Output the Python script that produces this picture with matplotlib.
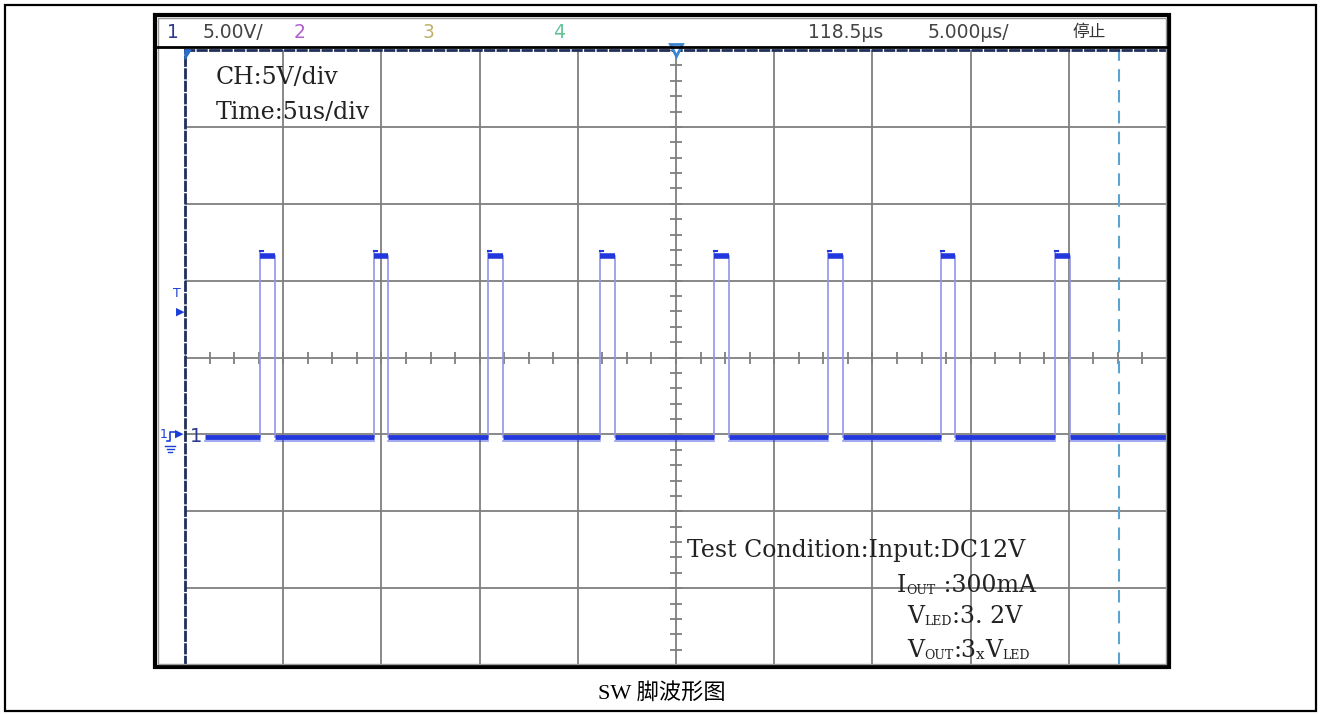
import matplotlib
matplotlib.use("Agg")
import matplotlib.pyplot as plt
from matplotlib.patches import Rectangle, Polygon
from matplotlib.lines import Line2D
import numpy as np

# waveform data (time in us, level in V)
rise_us = [3.82, 9.62, 15.43, 21.13, 26.94, 32.74, 38.49, 44.30]
fall_us = [4.56, 10.36, 16.17, 21.87, 27.68, 33.48, 39.23, 45.04]
v_low = 0.0
v_high = 11.8
ground_offset_v = -5.2
trace_start_us = 1.0
trace_end_us = 50.0
cursor_us = 47.56

# scope settings
time_div = 5.0      # us/div
volt_div = 5.0      # V/div
n_xdiv = 10
n_ydiv = 8

header_labels = ["1", "5.00V/", "2", "3", "4", "118.5µs", "5.000µs/", "停止"]
header_x = [167, 203, 294, 423, 553, 808, 928, 1072]
header_colors = ["#2b3a8f", "#444444", "#b060cc", "#bdb26a", "#5ec495", "#444444", "#444444", "#333333"]

info_lines = ["CH:5V/div", "Time:5us/div"]
test_line = "Test Condition:Input:DC12V"
caption = "SW 脚波形图"

W, H = 1320, 715
fig = plt.figure(figsize=(W / 100, H / 100), dpi=100)
fig.patch.set_facecolor("white")


def fx(px):
    return px / W


def fy(py):
    return 1 - py / H


# page border and scope frame
fig.add_artist(Rectangle((fx(5), fy(711)), fx(1316) - fx(5), fy(5) - fy(711),
                         transform=fig.transFigure, fill=False, lw=1.6, ec="black"))
fig.add_artist(Rectangle((fx(155), fy(667)), fx(1169) - fx(155), fy(15) - fy(667),
                         transform=fig.transFigure, fill=False, lw=3, ec="black"))
fig.add_artist(Rectangle((fx(158), fy(664)), fx(1166) - fx(158), fy(18) - fy(664),
                         transform=fig.transFigure, fill=False, lw=1, ec="#999999"))
fig.add_artist(Line2D([fx(155), fx(1169)], [fy(47), fy(47)], transform=fig.transFigure,
                      lw=2, color="black"))

# header row
hdr_font = ["DejaVu Sans", "Noto Sans CJK SC"]
for lab, x, c in zip(header_labels, header_x, header_colors):
    fam = ["Noto Sans CJK SC"] if lab == "停止" else hdr_font
    fs = 12 if lab == "停止" else 13.5
    fig.text(fx(x), fy(32), lab, color=c, fontsize=fs, family=fam, ha="left", va="center")

# screen axes
ax = fig.add_axes([fx(185), fy(665), fx(1167) - fx(185), fy(50) - fy(665)])
xmax = n_xdiv * time_div
ymax = n_ydiv / 2 * volt_div
ax.set_xlim(0, xmax)
ax.set_ylim(-ymax, ymax)
ax.set_xticks([])
ax.set_yticks([])
for s in ["right", "bottom"]:
    ax.spines[s].set_visible(False)
for s in ["left", "top"]:
    ax.spines[s].set_linestyle((0, (3, 1.5)))
    ax.spines[s].set_color("#1f2f5a")
    ax.spines[s].set_linewidth(2)

grid_c = "#7f7f7f"
for i in range(1, n_xdiv):
    ax.axvline(i * time_div, color=grid_c, lw=1.3, zorder=1)
for j in range(1, n_ydiv):
    ax.axhline(-ymax + j * volt_div, color=grid_c, lw=1.3, zorder=1)

# minor ticks on the centre cross
xt = np.arange(0, xmax + 0.01, time_div / 4)
ax.plot(xt, np.zeros_like(xt), ls="none", marker="|", ms=9, mew=1.3, color=grid_c, zorder=1)
yt = np.arange(-ymax, ymax + 0.01, volt_div / 5)
ax.plot(np.full_like(yt, xmax / 2), yt, ls="none", marker="_", ms=9, mew=1.3, color=grid_c, zorder=1)

# cursor
ax.axvline(cursor_us, color="#5ba3d3", lw=1.5, ls=(0, (6, 4)), zorder=2)

# trace
lo = v_low + ground_offset_v
hi = v_high + ground_offset_v
trace_c = "#2238dc"
edge_c = "#9494ec"
starts = [trace_start_us] + fall_us
ends = rise_us + [trace_end_us]
for a, b in zip(starts, ends):
    ax.plot([a, b], [lo, lo], color=trace_c, lw=3.5, solid_capstyle="butt", zorder=4)
    ax.plot([a, b], [lo - 0.25, lo - 0.25], color=trace_c, lw=1.2, alpha=0.5, zorder=4)
for r, f in zip(rise_us, fall_us):
    ax.plot([r, r], [lo, hi + 0.3], color=edge_c, lw=1.2, zorder=3)
    ax.plot([f, f], [lo, hi], color=edge_c, lw=1.2, zorder=3)
    ax.plot([r, f], [hi, hi], color=trace_c, lw=4, solid_capstyle="butt", zorder=4)
    ax.plot([r, r + 0.15], [hi + 0.3, hi + 0.3], color=trace_c, lw=1.5, zorder=4)

# trigger position marker and corner mark
ax.plot([xmax / 2], [ymax], marker="v", ms=9, mfc="white", mec="#3a86d0", mew=2,
        clip_on=False, zorder=6)
ax.add_patch(Polygon([[0, 1], [0.006, 1], [0, 0.985]], closed=True, transform=ax.transAxes,
                     color="#2a6fd0", clip_on=False, zorder=6))

# channel markers on the left
blue = "#1a3fd8"
fig.text(fx(177), fy(294), "T", color=blue, fontsize=9, ha="center", va="center")
fig.text(fx(180), fy(312), "▶", color=blue, fontsize=8, ha="center", va="center")
fig.text(fx(164), fy(434), "1", color=blue, fontsize=9, ha="center", va="center")
fig.add_artist(Line2D([fx(167), fx(170), fx(170), fx(175)],
                      [fy(441), fy(441), fy(432), fy(432)], transform=fig.transFigure,
                      lw=1.2, color=blue))
fig.text(fx(179), fy(434), "▶", color=blue, fontsize=8, ha="center", va="center")
for k, half in enumerate([5, 3.5, 2]):
    fig.add_artist(Line2D([fx(170 - half), fx(170 + half)], [fy(446 + 3 * k), fy(446 + 3 * k)],
                          transform=fig.transFigure, lw=1, color=blue))
fig.text(fx(196), fy(436), "1", color="#2b3a8f", fontsize=14, family=hdr_font,
         ha="center", va="center")

# annotations on the screen
tf = ["DejaVu Serif"]
big = 17
small = 9
txt_c = "#222222"
fig.text(fx(216), fy(84), info_lines[0], fontsize=big, family=tf, color=txt_c, va="baseline")
fig.text(fx(216), fy(119), info_lines[1], fontsize=big, family=tf, color=txt_c, va="baseline")
fig.text(fx(687), fy(557), test_line, fontsize=big, family=tf, color=txt_c, va="baseline")


# chained text: each piece starts at the right edge of the previous one
def text_run(x, y, parts):
    t = fig.text(fx(x), fy(y), parts[0][0], fontsize=parts[0][1], family=tf,
                 color=txt_c, va="baseline", ha="left")
    prev = t
    for s, size in parts[1:]:
        prev = ax.annotate(s, xy=(1, 0), xycoords=prev, xytext=(0, 0),
                           textcoords="offset points", fontsize=size, family=tf,
                           color=txt_c, va="bottom", ha="left", annotation_clip=False)
    return t


text_run(897, 592, [("I", big), ("OUT", small), (" :300mA", big)])
text_run(907, 623, [("V", big), ("LED", small), (":3. 2V", big)])
text_run(907, 657, [("V", big), ("OUT", small), (":3", big), ("x", small + 2), ("V", big),
                    ("LED", small)])

# caption
fig.text(fx(662), fy(693), caption, fontsize=16, family=["Liberation Serif", "Noto Sans CJK SC"],
         ha="center", va="center", color="black")

fig.savefig("out.png", dpi=100)
